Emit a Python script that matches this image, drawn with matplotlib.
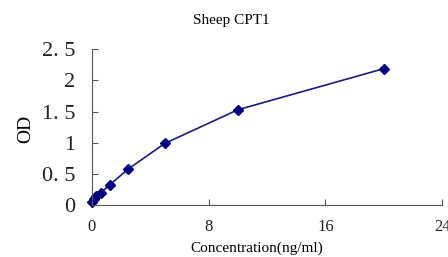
import matplotlib
matplotlib.use("Agg")
import matplotlib.pyplot as plt

# standard curve data
conc = [0, 0.156, 0.313, 0.625, 1.25, 2.5, 5, 10, 20]
od = [0.05, 0.09, 0.14, 0.2, 0.33, 0.58, 0.99, 1.53, 2.19]

x_ticks = [0, 8, 16, 24]
y_ticks = [0, 0.5, 1, 1.5, 2, 2.5]
y_labels = ["0", "0. 5", "1", "1. 5", "2", "2. 5"]

plt.rcParams["font.family"] = ["Liberation Serif", "DejaVu Serif"]

fig = plt.figure(figsize=(4.48, 2.57), dpi=100)
ax = fig.add_axes([0.205, 0.202, 0.782, 0.606])

ax.plot(conc, od, color="#1a1a80", lw=1.2, marker="D", ms=5,
        markerfacecolor="#000080", markeredgecolor="#000080", clip_on=False)

ax.set_xlim(0, 24)
ax.set_ylim(0, 2.5)
ax.set_xticks(x_ticks)
ax.set_yticks(y_ticks)
ax.set_yticklabels(y_labels)
ax.tick_params(axis="y", direction="in", length=4, labelsize=16, pad=12, colors="#555555")
ax.tick_params(axis="x", direction="in", length=4, labelsize=12, pad=10, colors="#555555")
for lab in ax.get_xticklabels() + ax.get_yticklabels():
    lab.set_color("#222222")
ax.spines["top"].set_visible(False)
ax.spines["right"].set_visible(False)
ax.spines["left"].set_color("#555555")
ax.spines["bottom"].set_color("#555555")

fig.text(0.516, 0.922, "Sheep CPT1", ha="center", va="center", fontsize=11)
fig.text(0.574, 0.035, "Concentration(ng/ml)", ha="center", va="center", fontsize=11)
fig.text(0.058, 0.5, "OD", ha="center", va="center", rotation=90, fontsize=14)

fig.savefig("out.png", dpi=100)
